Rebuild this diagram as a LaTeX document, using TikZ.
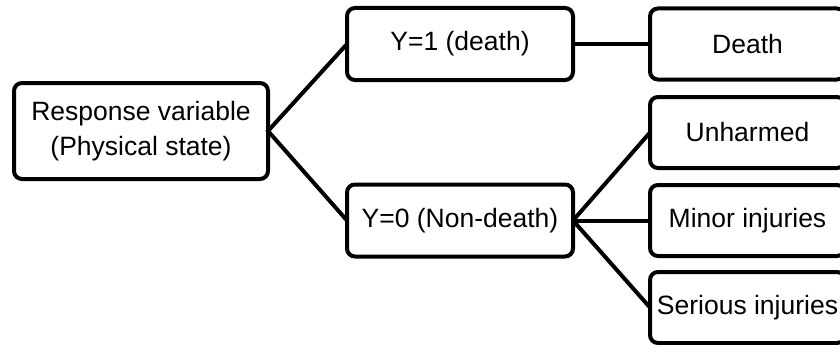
\documentclass[tikz,border=0pt]{standalone}
\usepackage{fontspec}
\setmainfont{Liberation Sans}
\begin{document}
\begin{tikzpicture}[x=1pt,y=-1pt,
  box/.style={draw=black, line width=4pt, rounded corners=8pt, fill=white,
    inner sep=0pt, outer sep=0pt, align=center,
    font=\fontsize{26.5}{35}\selectfont},
  leftbox/.style={box, minimum width=254pt, minimum height=96pt},
  midbox/.style={box, minimum width=226pt, minimum height=72pt},
  rightbox/.style={box, minimum width=195pt, minimum height=71pt},
  link/.style={line width=4pt}]
\useasboundingbox (0,0) rectangle (840,345);
\clip (0,0) rectangle (840,345);
\node[leftbox] (resp) at (141,131) {Response variable\\(Physical state)};
\node[midbox] (y1) at (460,44) {Y=1 (death)};
\node[midbox] (y0) at (460,220.5) {Y=0 (Non-death)};
\node[rightbox] (death) at (747.5,44) {Death};
\node[rightbox] (unh) at (747.5,132.5) {Unharmed};
\node[rightbox] (minor) at (747.5,220.5) {Minor injuries};
\node[rightbox] (serious) at (747.5,307.5) {Serious injuries};
\draw[link] (y1.west) -- (resp.east) -- (y0.west);
\draw[link] (y1.east) -- (death.west);
\draw[link] (y0.east) -- (unh.west);
\draw[link] (y0.east) -- (minor.west);
\draw[link] (y0.east) -- (serious.west);
\end{tikzpicture}
\end{document}
